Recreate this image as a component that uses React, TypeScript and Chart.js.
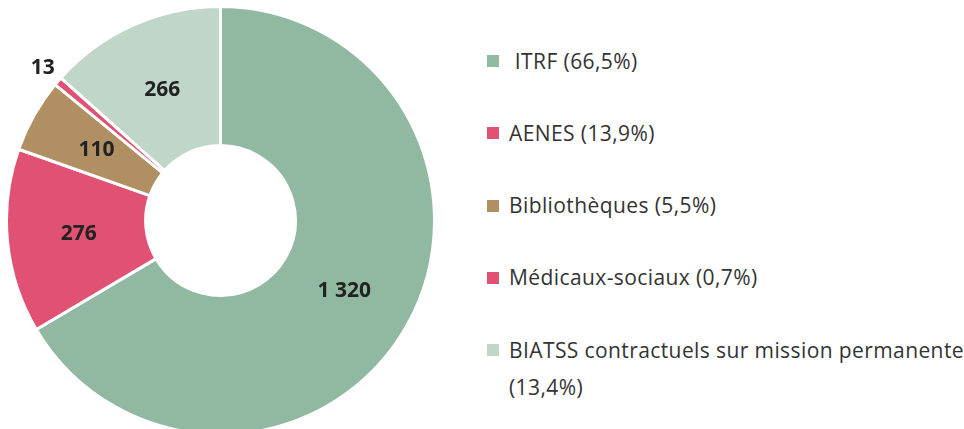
import React, { useEffect, useRef } from "react";
import { Chart, registerables } from "chart.js";

Chart.register(...registerables);

const categories = [
  " ITRF",
  "AENES",
  "Bibliothèques",
  "Médicaux-sociaux",
  "BIATSS contractuels sur mission permanente",
];
const values = [1320, 276, 110, 13, 266];
const percents = ["66,5", "13,9", "5,5", "0,7", "13,4"];
const valueLabels = ["1 320", "276", "110", "13", "266"];
const colors = ["#91b9a2", "#e05174", "#b09062", "#e05174", "#bfd6c9"];

const total = values.reduce((a, b) => a + b, 0);

const sliceLabels = {
  id: "sliceLabels",
  afterDatasetsDraw(chart: any) {
    const ctx = chart.ctx;
    const meta = chart.getDatasetMeta(0);
    ctx.save();
    ctx.font = 'bold 21px "Open Sans"';
    ctx.fillStyle = "#222222";
    ctx.textAlign = "center";
    ctx.textBaseline = "middle";
    meta.data.forEach((arc: any, i: number) => {
      const p = arc.getProps(
        ["x", "y", "startAngle", "endAngle", "innerRadius", "outerRadius"],
        true
      );
      const mid = (p.startAngle + p.endAngle) / 2;
      const small = values[i] / total < 0.02;
      const r = small ? p.outerRadius + 20 : (p.innerRadius + p.outerRadius) / 2 - 2;
      ctx.fillText(valueLabels[i], p.x + Math.cos(mid) * r, p.y + Math.sin(mid) * r);
    });
    ctx.restore();
  },
};

export default function App() {
  const ref = useRef<HTMLCanvasElement | null>(null);

  useEffect(() => {
    if (!ref.current) return;
    const chart = new Chart(ref.current, {
      type: "doughnut",
      data: {
        labels: categories,
        datasets: [
          {
            data: values,
            backgroundColor: colors,
            borderColor: "#ffffff",
            borderWidth: 3,
          },
        ],
      },
      options: {
        animation: false,
        responsive: true,
        maintainAspectRatio: false,
        cutout: "35%",
        layout: { padding: 0 },
        plugins: {
          legend: { display: false },
          tooltip: { enabled: false },
        },
      },
      plugins: [sliceLabels],
    });
    return () => chart.destroy();
  }, []);

  return (
    <div
      style={{
        position: "fixed",
        left: 0,
        top: 0,
        width: 964,
        height: 429,
        overflow: "hidden",
        background: "#ffffff",
      }}
    >
      <div style={{ position: "absolute", left: 5, top: 5, width: 431, height: 431 }}>
        <canvas ref={ref} />
      </div>
      {categories.map((c, i) => {
        const cy = 61 + 72.3 * i;
        return (
          <React.Fragment key={i}>
            <div
              style={{
                position: "absolute",
                left: 487,
                top: cy - 6,
                width: 12,
                height: 12,
                background: colors[i],
              }}
            />
            <div
              style={{
                position: "absolute",
                left: 509,
                top: cy - 18.5,
                width: 462,
                lineHeight: "37px",
                fontSize: 21,
                letterSpacing: "0.4px",
                fontFamily: '"Open Sans", sans-serif',
                color: "#333333",
                whiteSpace: "pre-wrap",
              }}
            >
              {`${c} (${percents[i]}%)`}
            </div>
          </React.Fragment>
        );
      })}
    </div>
  );
}
